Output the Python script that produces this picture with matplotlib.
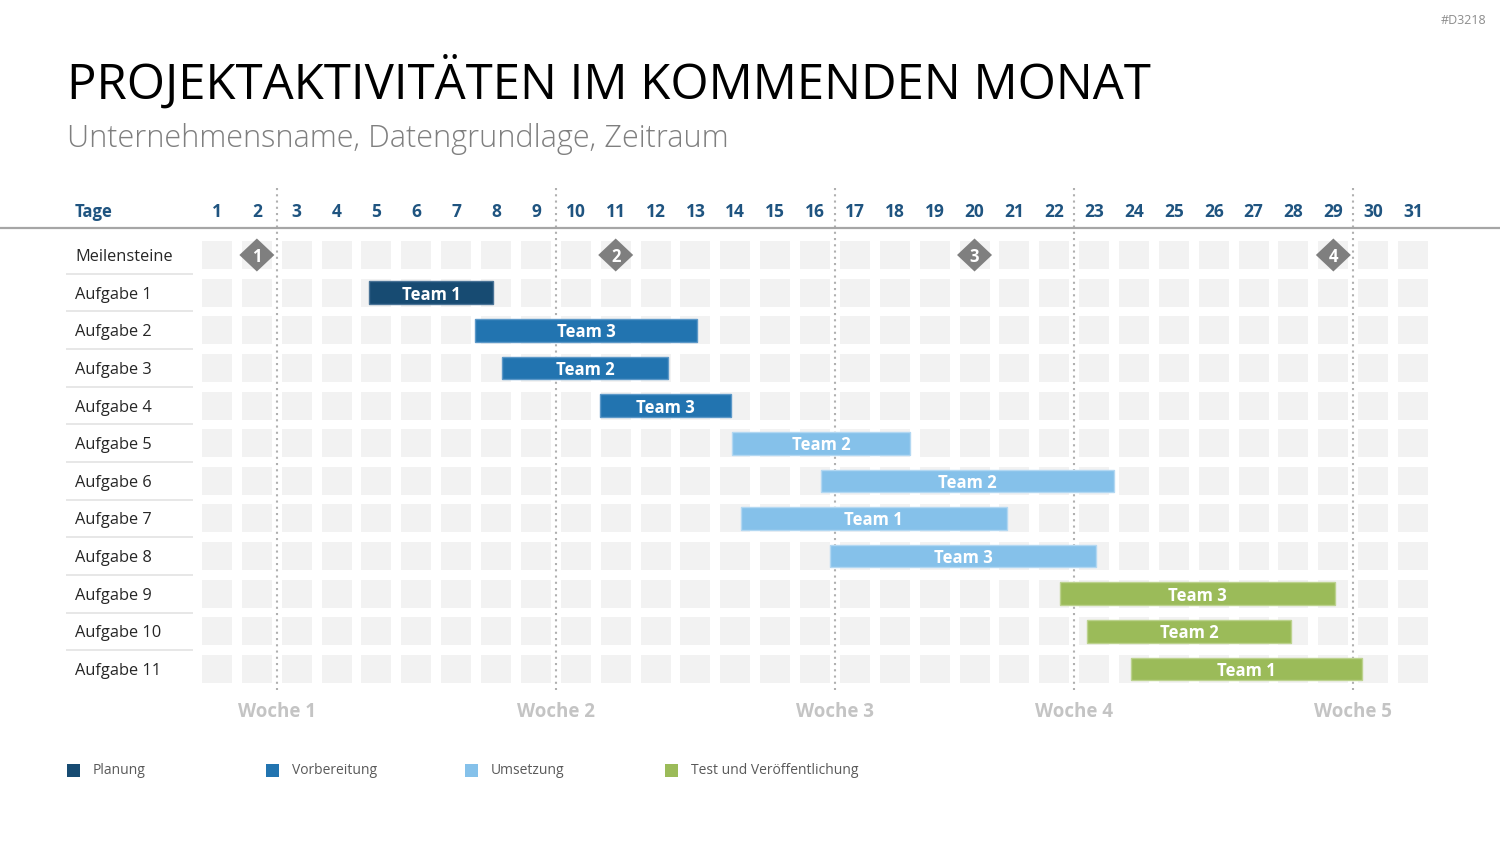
import matplotlib
matplotlib.use("Agg")
import matplotlib.pyplot as plt
from matplotlib.patches import Rectangle, Polygon

# ---------------- data ----------------
days = list(range(1, 32))
rows = ["Meilensteine"] + [f"Aufgabe {i}" for i in range(1, 12)]
task_start = [4.81, 7.47, 8.15, 10.61, 13.92, 16.15, 14.14, 16.37, 22.14, 22.82, 23.92]
task_end = [7.92, 13.04, 12.31, 13.89, 18.38, 23.50, 20.81, 23.05, 29.04, 27.94, 29.72]
task_team = ["Team 1", "Team 3", "Team 2", "Team 3", "Team 2", "Team 2",
             "Team 1", "Team 3", "Team 3", "Team 2", "Team 1"]
task_phase = [0, 1, 1, 1, 2, 2, 2, 2, 3, 3, 3]
phases = ["Planung", "Vorbereitung", "Umsetzung", "Test und Veröffentlichung"]
milestone_days = [2, 11, 20, 29]
milestone_labels = ["1", "2", "3", "4"]
week_bounds = [2.5, 9.5, 16.5, 22.5, 29.5]
week_labels = ["Woche 1", "Woche 2", "Woche 3", "Woche 4", "Woche 5"]

phase_colors = ["#174b72", "#2274b0", "#85c1ea", "#9bbb59"]
phase_edges = ["#4a7396", "#5c98c8", "#b3d8f2", "#bcd28e"]

FONT = ["Open Sans", "DejaVu Sans"]
plt.rcParams["font.family"] = FONT

W, H = 1500, 844
fig = plt.figure(figsize=(15, 8.44), dpi=100)
ax = fig.add_axes([0, 0, 1, 1])
ax.axis("off")

# pixel mapping: day 1 -> x=217, 39.87 px/day ; row 0 -> y=255, 37.64 px/row
PXD = 39.87
PXR = 37.64
ax.set_xlim(1 - 217 / PXD, 1 + (W - 217) / PXD)
ax.set_ylim((H - 255) / PXR, -255 / PXR)

def px2x(px):
    return 1 + (px - 217) / PXD

def py2y(py):
    return (py - 255) / PXR

TOFF = 2 / PXR  # small downward text offset

nrows = len(rows)
cw = 30 / PXD
ch = 28 / PXR

# grid cells
for r in range(nrows):
    for d in days:
        ax.add_patch(Rectangle((d - cw / 2, r - ch / 2), cw, ch,
                               facecolor="#f2f2f2", edgecolor="none", zorder=1))

# row labels and separators
for r, name in enumerate(rows):
    ax.text(px2x(75), r + TOFF, name, ha="left", va="center", fontsize=11.8,
            color="#262626", zorder=5)
    if r < nrows - 1:
        ax.plot([px2x(66), px2x(193)], [r + 0.5, r + 0.5], color="#e3e3e3",
                lw=1.2, zorder=2, solid_capstyle="butt")

# header
ax.text(px2x(75), py2y(212), "Tage", ha="left", va="center", fontsize=12,
        fontweight="bold", color="#1f5480")
for d in days:
    ax.text(d, py2y(212), str(d), ha="center", va="center", fontsize=12.5,
            fontweight="bold", color="#1f5480")
ax.plot([px2x(0), px2x(W)], [py2y(228), py2y(228)], color="#a6a6a6", lw=1.6,
        zorder=3, solid_capstyle="butt")

# week separators and labels
for wb, wl in zip(week_bounds, week_labels):
    ax.plot([wb, wb], [py2y(188), py2y(690)], color="#b0b0b0", lw=1.5,
            linestyle=(0, (1, 2)), zorder=2)
    ax.text(wb, py2y(712), wl, ha="center", va="center", fontsize=13.5,
            fontweight="bold", color="#c4c4c4")

# task bars
bh = 22.6 / PXR
for i, (s, e, t, p) in enumerate(zip(task_start, task_end, task_team, task_phase)):
    r = i + 1
    ax.add_patch(Rectangle((s, r - bh / 2), e - s, bh, facecolor=phase_colors[p],
                           edgecolor=phase_edges[p], lw=1.0, zorder=4))
    ax.text((s + e) / 2, r + TOFF, t, ha="center", va="center", fontsize=12,
            fontweight="bold", color="white", zorder=6)

# milestones
hw = 17.5 / PXD
hh = 16.5 / PXR
for md, ml in zip(milestone_days, milestone_labels):
    ax.add_patch(Polygon([(md - hw, 0), (md, -hh), (md + hw, 0), (md, hh)],
                         closed=True, facecolor="#7f7f7f", edgecolor="none",
                         zorder=5))
    ax.text(md, TOFF, ml, ha="center", va="center", fontsize=12,
            fontweight="bold", color="white", zorder=6)

# legend
leg_x = [67, 266, 465, 665]
for lx, name, col in zip(leg_x, phases, phase_colors):
    ax.add_patch(Rectangle((px2x(lx), py2y(763.5)), 13 / PXD, 13 / PXR,
                           facecolor=col, edgecolor="none", zorder=5))
    ax.text(px2x(lx + 26), py2y(771), name, ha="left", va="center",
            fontsize=10, color="#595959")

# titles
def fit_text(x, y, s, target_w, **kw):
    t = fig.text(x / W, 1 - y / H, s, **kw)
    fig.canvas.draw()
    r = fig.canvas.get_renderer()
    w = t.get_window_extent(r).width
    t.set_fontsize(t.get_fontsize() * target_w / w)
    return t

fit_text(67, 83, "PROJEKTAKTIVITÄTEN IM KOMMENDEN MONAT", 1085,
         ha="left", va="center", fontsize=36, color="#000000")
fit_text(67, 139, "Unternehmensname, Datengrundlage, Zeitraum", 660,
         ha="left", va="center", fontsize=22, color="#7f7f7f", fontweight="light")
fig.text(1486 / W, 1 - 20 / H, "#D3218", ha="right", va="center", fontsize=9,
         color="#8c8c8c")

fig.savefig("out.png", dpi=100, facecolor="white")
